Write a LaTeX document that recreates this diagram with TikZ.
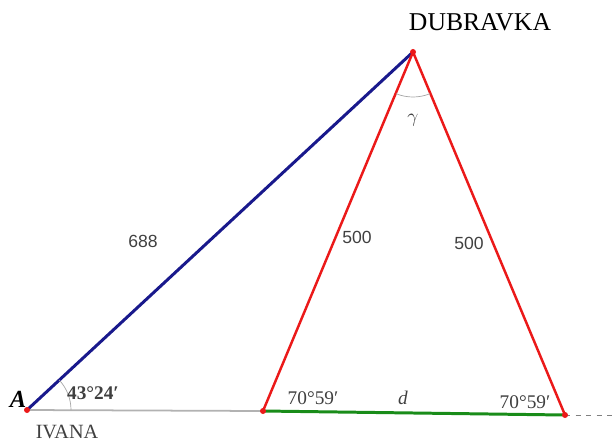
\documentclass[tikz,border=0pt]{standalone}
\usepackage{fontspec}
\setmainfont{Liberation Serif}
\newfontfamily\numfont{Liberation Sans}
\definecolor{sidenavy}{RGB}{25,25,140}
\definecolor{sidered}{RGB}{235,25,25}
\definecolor{sidegreen}{RGB}{25,140,25}
\tikzset{
  vertexdot/.style={fill=sidered,draw=none},
  anglearc/.style={draw=gray!70,thin},
  sidelen/.style={font=\numfont\fontsize{10}{12}\selectfont,text=black!75},
  anglelbl/.style={font=\fontsize{11}{13}\selectfont,text=black!75}
}
\begin{document}
\begin{tikzpicture}[x=0.02cm,y=0.02cm]
    \useasboundingbox (0,0) rectangle (614,441);
    \coordinate (ivana) at (27,31);
    \coordinate (dubravka) at (413,389);
    \coordinate (b) at (263,30);
    \coordinate (c) at (565,26);
    \coordinate (far) at (614,26);

    \draw [gray!60,line width=1pt] (ivana) -- (b);
    \draw [dashed,gray,thin] (c) -- (far);
    \draw [sidegreen,line width=1.7pt] (b) -- (c);
    \draw [sidenavy,line width=1.7pt] (ivana) -- (dubravka);
    \draw [sidered,line width=1.4pt] (b) -- (dubravka) -- (c);

    \draw [anglearc] ([shift={(0:44)}]ivana) arc (0:43:44);
    \draw [anglearc] ([shift={(248:45)}]dubravka) arc (248:292:45);

    \foreach \p in {ivana,dubravka,b,c}
        \fill [vertexdot] (\p) circle (3);

    \node [sidelen] (l688) at (143,200) {688};
    \node [sidelen] (l500a) at (357,204) {500};
    \node [sidelen] (l500b) at (469,198) {500};
    \node [anglelbl] (gamma) at (413,321) {$\gamma$};
    \node [anglelbl] (beta1) at (313,43) {70°59′};
    \node [anglelbl] (dlbl) at (403,43) {\itshape d};
    \node [anglelbl] (beta2) at (525,39) {70°59′};
    \node [anglelbl,font=\bfseries\fontsize{11}{13}\selectfont] (alpha) at (93,48) {43°24′};
    \node [font=\bfseries\itshape\fontsize{14}{16}\selectfont] (albl) at (18,42) {A};
    \node [font=\fontsize{11.5}{13}\selectfont,text=black!75] (ivanalbl) at (67,9) {IVANA};
    \node [font=\fontsize{14.6}{17}\selectfont] (dublbl) at (480,419) {DUBRAVKA};
\end{tikzpicture}
\end{document}
